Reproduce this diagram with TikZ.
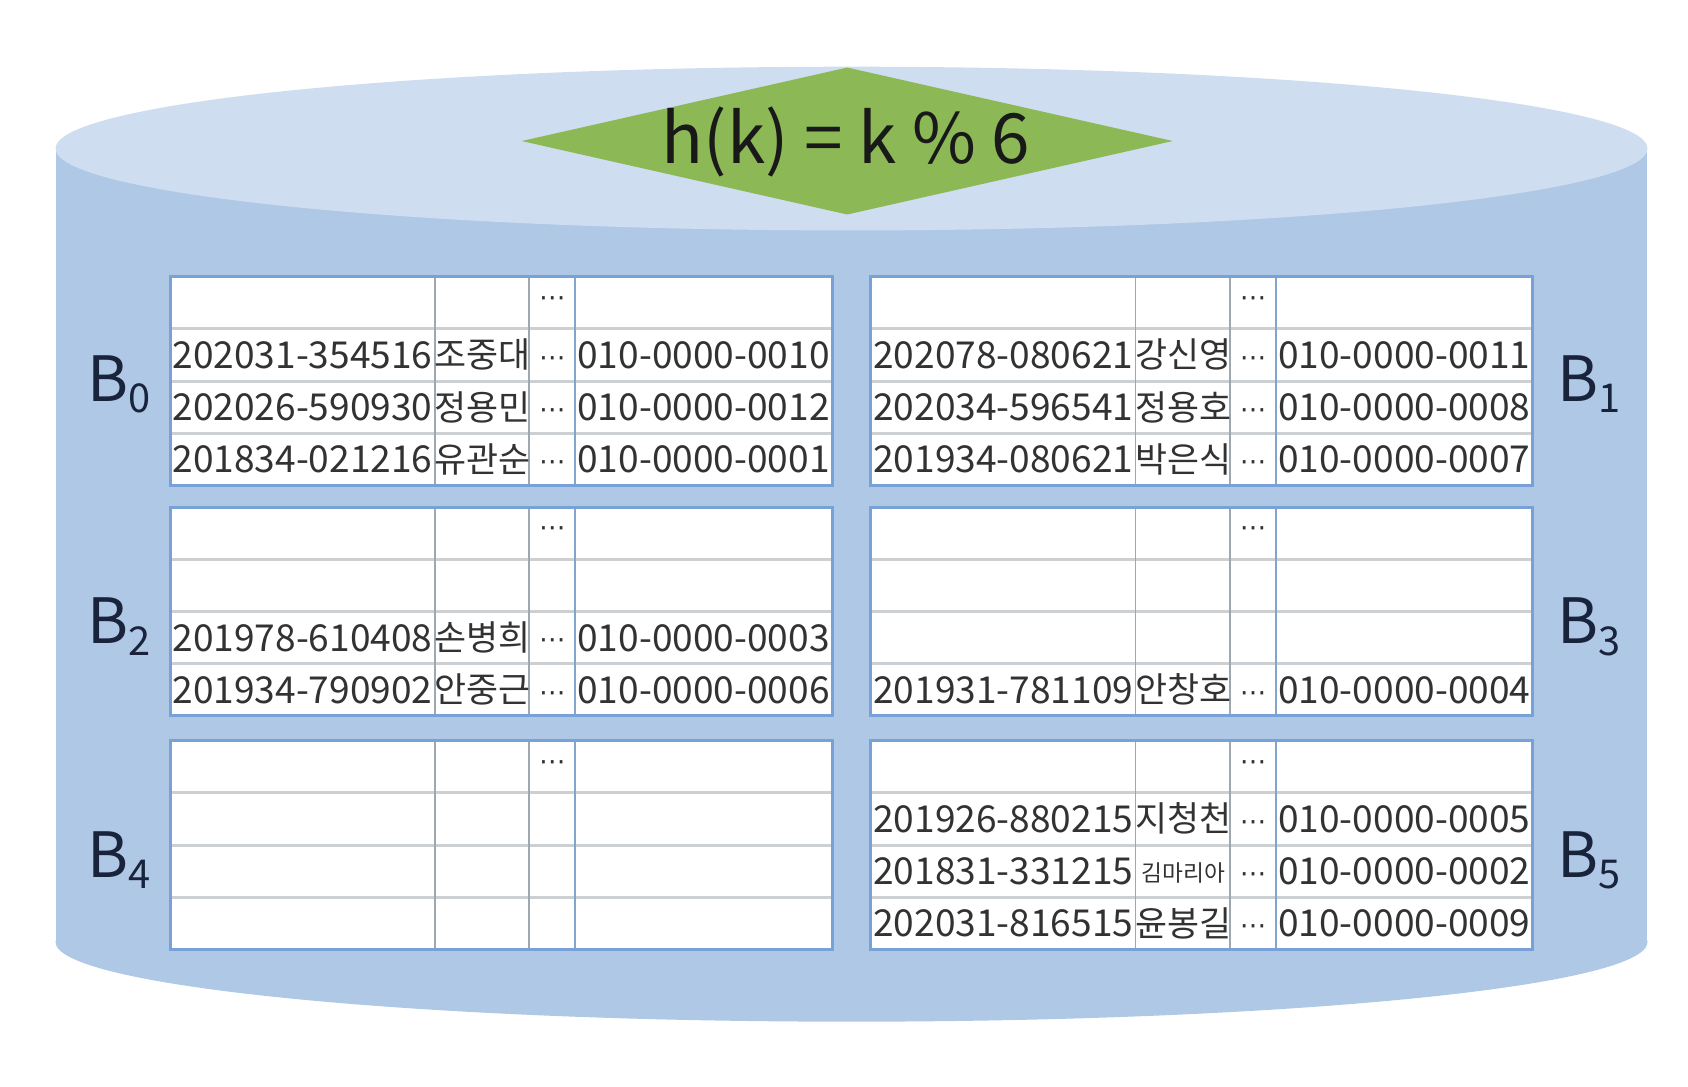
\documentclass[tikz,border=0pt]{standalone}
\usepackage{fontspec}
\setmainfont{Noto Sans CJK KR}
\newfontfamily\dejavu{DejaVu Sans}
\usetikzlibrary{shapes.geometric}
\definecolor{cyltop}{RGB}{206,222,240}
\definecolor{cylbody}{RGB}{174,200,230}
\definecolor{hashgreen}{RGB}{140,184,86}
\definecolor{tblborder}{RGB}{120,162,215}
\definecolor{hlinec}{RGB}{205,208,210}
\definecolor{vlinec}{RGB}{160,168,175}
\definecolor{vlineb}{RGB}{130,165,205}
\definecolor{txtc}{RGB}{50,50,50}
\definecolor{lblc}{RGB}{25,35,60}
\tikzset{
  hl/.style={draw=hlinec, line width=0.8pt},
  vl/.style={draw=vlinec, line width=0.35pt},
  vlb/.style={draw=vlineb, line width=0.45pt},
  tblframe/.style={draw=tblborder, line width=0.8pt},
  cell/.style={inner sep=0pt, anchor=base, text=txtc, font=\fontsize{9.8}{10}\selectfont},
  namecell/.style={cell, font=\fontsize{9.2}{10}\selectfont},
  smallcell/.style={cell, font=\fontsize{6}{7}\selectfont},
  dotcell/.style={inner sep=0pt, text=txtc, font=\dejavu\fontsize{7}{7}\selectfont},
  blabel/.style={inner sep=0pt, anchor=base west, text=lblc, font=\fontsize{16.5}{18}\selectfont},
  formula/.style={inner sep=0pt, anchor=base west, text=black!90, font=\fontsize{18.3}{20}\selectfont},
}
\newcommand\bucketgrid[2]{%
  \fill[white] (#1,#2) rectangle ++(615,194);
  \foreach \dy in {48.5,97,145.5} \draw[hl] (#1,#2+\dy) -- ++(615,0);
  \foreach \dx in {246,333.5} \draw[vl] (#1+\dx,#2) -- ++(0,194);
  \draw[vlb] (#1+376,#2) -- ++(0,194);
  \draw[tblframe] (#1,#2) rectangle ++(615,194);
}
\newcommand\topdots[3]{\node[dotcell] (#1) at (#2+355,#3+23) {⋯};}
\newcommand\entry[6]{%
  \node[cell] (#1id) at (#2+123,#3+12.5) {#4};
  \node[namecell] (#1nm) at (#2+290,#3+12) {#5};
  \node[dotcell] (#1dt) at (#2+355,#3+6) {⋯};
  \node[cell] (#1ph) at (#2+495.5,#3+12.5) {#6};}
\newcommand\bsub[1]{B\raisebox{-3pt}{\fontsize{10.5}{11}\selectfont #1}}
\begin{document}
\begin{tikzpicture}[x=0.01cm, y=-0.01cm]
\useasboundingbox (0,0) rectangle (1568,1009);
% cylinder
\fill[cylbody] (52,138) rectangle (1530,875);
\fill[cylbody] (791,875) ellipse [x radius=7.39cm, y radius=0.74cm];
\fill[cyltop] (791,138) ellipse [x radius=7.39cm, y radius=0.76cm];
% hash function
\node[diamond, fill=hashgreen, inner sep=0pt, aspect=4.4, minimum width=6.05cm, minimum height=1.37cm] (hash) at (787,131) {};
\node[formula] (hk) at (614,152) {h(k) = k \% 6};
% tables
\bucketgrid{158}{257}
\bucketgrid{809}{257}
\bucketgrid{158}{471}
\bucketgrid{809}{471}
\bucketgrid{158}{688}
\bucketgrid{809}{688}
% B0
\topdots{bzd}{158}{257}
\entry{bza}{158}{329.75}{202031-354516}{조중대}{010-0000-0010}
\entry{bzb}{158}{378.25}{202026-590930}{정용민}{010-0000-0012}
\entry{bzc}{158}{426.75}{201834-021216}{유관순}{010-0000-0001}
% B1
\topdots{bod}{809}{257}
\entry{boa}{809}{329.75}{202078-080621}{강신영}{010-0000-0011}
\entry{bob}{809}{378.25}{202034-596541}{정용호}{010-0000-0008}
\entry{boc}{809}{426.75}{201934-080621}{박은식}{010-0000-0007}
% B2
\topdots{btd}{158}{471}
\entry{bta}{158}{592.25}{201978-610408}{손병희}{010-0000-0003}
\entry{btb}{158}{640.75}{201934-790902}{안중근}{010-0000-0006}
% B3
\topdots{bhd}{809}{471}
\entry{bha}{809}{640.75}{201931-781109}{안창호}{010-0000-0004}
% B4
\topdots{bfd}{158}{688}
% B5
\topdots{bvd}{809}{688}
\entry{bva}{809}{760.75}{201926-880215}{지청천}{010-0000-0005}
\node[cell] (bvbid) at (809+123,809.25+12.5) {201831-331215};
\node[smallcell] (bvbnm) at (809+290,809.25+10) {김마리아};
\node[dotcell] (bvbdt) at (809+355,809.25+6) {⋯};
\node[cell] (bvbph) at (809+495.5,809.25+12.5) {010-0000-0002};
\entry{bvc}{809}{857.75}{202031-816515}{윤봉길}{010-0000-0009}
% labels
\node[blabel] (lb0) at (81,373) {\bsub{0}};
\node[blabel] (lb2) at (81,598) {\bsub{2}};
\node[blabel] (lb4) at (81,815) {\bsub{4}};
\node[blabel] (lb1) at (1446,373) {\bsub{1}};
\node[blabel] (lb3) at (1446,598) {\bsub{3}};
\node[blabel] (lb5) at (1446,815) {\bsub{5}};
\end{tikzpicture}
\end{document}
